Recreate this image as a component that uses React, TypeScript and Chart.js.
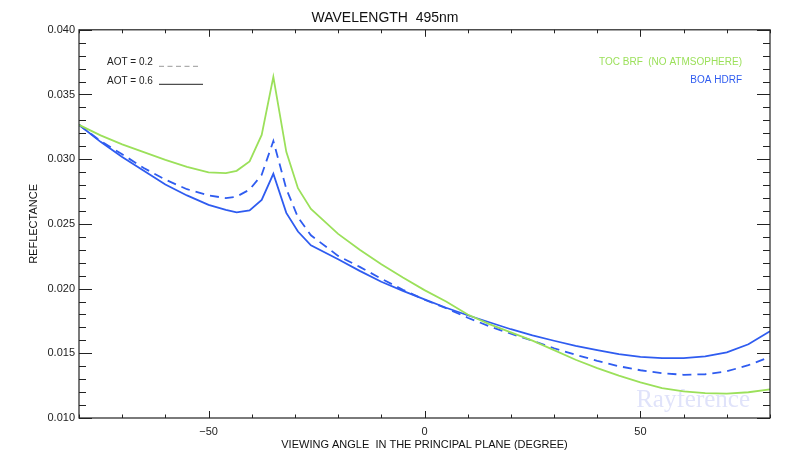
import React, { useEffect, useRef } from 'react';
import { Chart, registerables } from 'chart.js';

Chart.register(...registerables);

// Viewing angles (degrees) in the principal plane
const angles = [-80, -75, -70, -65, -60, -55, -50, -46, -43.5, -40.5, -37.7, -35, -32, -29.3, -26.3, -20, -15, -10, -5, 0, 5, 10, 15, 20, 25, 30, 35, 40, 45, 50, 55, 60, 65, 70, 75, 80];

// TOC BRF (no atmosphere)
const tocBrf = [0.03265, 0.03184, 0.03114, 0.03054, 0.02995, 0.02941, 0.02898, 0.02892, 0.0291, 0.02983, 0.03188, 0.03636, 0.03057, 0.02776, 0.02616, 0.02423, 0.023, 0.02188, 0.02085, 0.01988, 0.019, 0.018, 0.01725, 0.01662, 0.01598, 0.01525, 0.0145, 0.01386, 0.01327, 0.01276, 0.0123, 0.01205, 0.01192, 0.01189, 0.01199, 0.01222];

// BOA HDRF, AOT = 0.2 (dashed)
const boaAot02 = [0.03266, 0.0314, 0.03038, 0.02932, 0.02842, 0.02768, 0.02721, 0.02699, 0.02711, 0.02765, 0.02879, 0.03141, 0.02771, 0.02551, 0.02412, 0.02253, 0.02168, 0.02076, 0.01991, 0.01914, 0.01848, 0.01775, 0.01709, 0.01651, 0.01597, 0.01539, 0.01489, 0.01442, 0.014, 0.01369, 0.01346, 0.01334, 0.01338, 0.01361, 0.01408, 0.01473];

// BOA HDRF, AOT = 0.6 (solid)
const boaAot06 = [0.03266, 0.03134, 0.03017, 0.0291, 0.02805, 0.0272, 0.02647, 0.02608, 0.02589, 0.02604, 0.02686, 0.02887, 0.02585, 0.02441, 0.02334, 0.02227, 0.02137, 0.02053, 0.01983, 0.01917, 0.01852, 0.01794, 0.0174, 0.01686, 0.01639, 0.01597, 0.01558, 0.01524, 0.01493, 0.01473, 0.01463, 0.01463, 0.01477, 0.01508, 0.0157, 0.0167];

const titleText = 'WAVELENGTH  495nm';
const xTitle = 'VIEWING ANGLE  IN THE PRINCIPAL PLANE (DEGREE)';
const yTitle = 'REFLECTANCE';
const aotLabels = ['AOT = 0.2', 'AOT = 0.6'];
const seriesLabels = ['TOC BRF  (NO ATMSOPHERE)', 'BOA HDRF'];

const FONT = '"Liberation Sans", Arial, Helvetica, sans-serif';
const GREEN = '#9be05a';
const BLUE = '#2f5cf0';

const isMajorX = (v: number) => Math.abs(v % 50) < 1e-9;
const isMajorY = (v: number) => Math.round(v * 1000) % 5 === 0;

const framePlugin = {
  id: 'frame',
  beforeDatasetsDraw(chart: any) {
    const { ctx, chartArea } = chart;
    ctx.save();
    ctx.font = `25px "Liberation Serif", "Times New Roman", serif`;
    ctx.fillStyle = 'rgb(224,227,250)';
    ctx.textAlign = 'right';
    ctx.textBaseline = 'alphabetic';
    ctx.fillText('Rayference', chartArea.right - 20, chartArea.bottom - 11);
    ctx.restore();
  },
  afterDatasetsDraw(chart: any) {
    const { ctx, chartArea } = chart;
    const { left, right, top, bottom } = chartArea;
    const xs = chart.scales.x;
    const ys = chart.scales.y;
    ctx.save();
    ctx.strokeStyle = '#222';
    ctx.lineWidth = 1.2;
    ctx.strokeRect(left, top, right - left, bottom - top);
    ctx.lineWidth = 1;
    ctx.beginPath();
    xs.ticks.forEach((t: any) => {
      const px = Math.round(xs.getPixelForValue(t.value)) + 0.5;
      const len = isMajorX(t.value) ? 7 : 3.5;
      ctx.moveTo(px, bottom);
      ctx.lineTo(px, bottom - len);
      ctx.moveTo(px, top);
      ctx.lineTo(px, top + len);
    });
    ys.ticks.forEach((t: any) => {
      const py = Math.round(ys.getPixelForValue(t.value)) + 0.5;
      const len = isMajorY(t.value) ? 13 : 7;
      ctx.moveTo(left, py);
      ctx.lineTo(left + len, py);
      ctx.moveTo(right, py);
      ctx.lineTo(right - len, py);
    });
    ctx.stroke();

    // AOT legend (top-left)
    ctx.font = `10px ${FONT}`;
    ctx.fillStyle = '#222';
    ctx.textAlign = 'left';
    ctx.textBaseline = 'middle';
    ctx.fillText(aotLabels[0], left + 28, top + 32);
    ctx.fillText(aotLabels[1], left + 28, top + 51);
    ctx.beginPath();
    ctx.strokeStyle = '#999';
    ctx.setLineDash([5, 3.5]);
    ctx.moveTo(left + 80, top + 36.5);
    ctx.lineTo(left + 120, top + 36.5);
    ctx.stroke();
    ctx.beginPath();
    ctx.setLineDash([]);
    ctx.strokeStyle = '#222';
    ctx.moveTo(left + 80, top + 54.5);
    ctx.lineTo(left + 124, top + 54.5);
    ctx.stroke();

    // series legend (top-right)
    ctx.textAlign = 'right';
    ctx.fillStyle = GREEN;
    ctx.fillText(seriesLabels[0], right - 28, top + 32);
    ctx.fillStyle = BLUE;
    ctx.fillText(seriesLabels[1], right - 28, top + 50);
    ctx.restore();
  },
};

export default function App() {
  const ref = useRef<HTMLCanvasElement>(null);

  useEffect(() => {
    document.body.style.margin = '0';
    if (!ref.current) return;
    const mk = (vals: number[]) => angles.map((a, i) => ({ x: a, y: vals[i] }));
    const chart = new Chart(ref.current, {
      type: 'line',
      data: {
        datasets: [
          { label: seriesLabels[0], data: mk(tocBrf), borderColor: GREEN, borderWidth: 1.8, pointRadius: 0, tension: 0, fill: false },
          { label: aotLabels[0], data: mk(boaAot02), borderColor: BLUE, borderWidth: 1.8, borderDash: [9, 6], pointRadius: 0, tension: 0, fill: false },
          { label: aotLabels[1], data: mk(boaAot06), borderColor: BLUE, borderWidth: 1.8, pointRadius: 0, tension: 0, fill: false },
        ],
      },
      options: {
        responsive: false,
        animation: false,
        devicePixelRatio: 1,
        layout: { padding: { left: 0, right: 19, top: 0, bottom: 0 } },
        plugins: {
          legend: { display: false },
          tooltip: { enabled: false },
          title: {
            display: true,
            text: titleText,
            color: '#111',
            font: { family: FONT, size: 14, weight: 'normal' },
            padding: { top: 10, bottom: 3 },
          },
        },
        scales: {
          x: {
            type: 'linear',
            min: -80,
            max: 80,
            grid: { display: false, drawTicks: false },
            border: { display: false },
            ticks: {
              stepSize: 10,
              autoSkip: false,
              maxRotation: 0,
              padding: 7,
              color: '#222',
              font: { family: FONT, size: 11 },
              callback: (v: any) => (isMajorX(v) ? (v < 0 ? '\u2212' + Math.abs(v) : String(v)) : ''),
            },
            title: {
              display: true,
              text: xTitle,
              color: '#111',
              font: { family: FONT, size: 11 },
              padding: { top: 0, bottom: 1 },
            },
            afterFit: (s: any) => {
              s.height = 35;
            },
          },
          y: {
            type: 'linear',
            min: 0.01,
            max: 0.04,
            grid: { display: false, drawTicks: false },
            border: { display: false },
            ticks: {
              stepSize: 0.001,
              autoSkip: false,
              padding: 4,
              color: '#222',
              font: { family: FONT, size: 11 },
              callback: (v: any) => (isMajorY(v) ? Number(v).toFixed(3) : ''),
            },
            title: {
              display: true,
              text: yTitle,
              color: '#111',
              font: { family: FONT, size: 11 },
              padding: { top: 27, bottom: 0 },
            },
            afterFit: (s: any) => {
              s.width = 79;
            },
          },
        },
      },
      plugins: [framePlugin],
    } as any);
    return () => chart.destroy();
  }, []);

  return (
    <div style={{ width: 789, height: 453 }}>
      <canvas ref={ref} width={789} height={453} style={{ display: 'block' }} />
    </div>
  );
}
